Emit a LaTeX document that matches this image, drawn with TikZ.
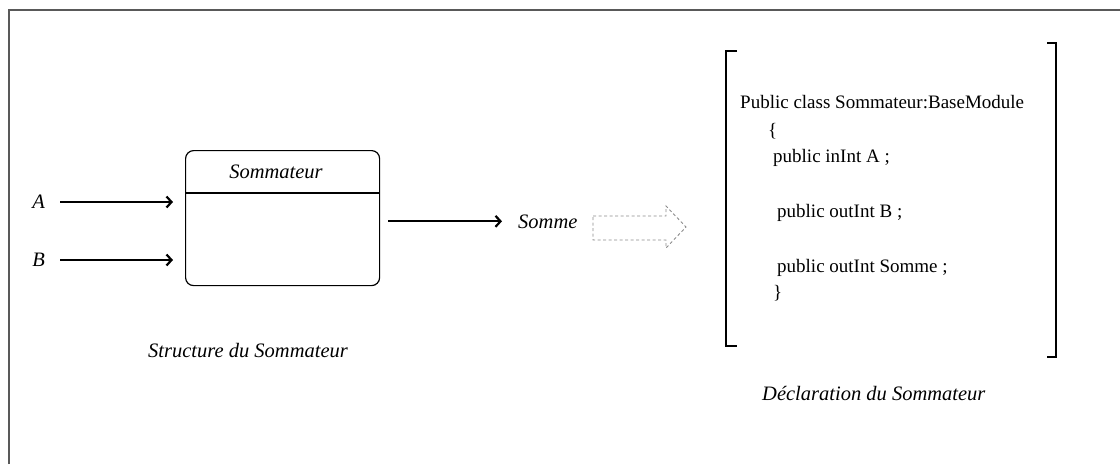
\documentclass[tikz,border=0pt]{standalone}
\usepackage{fontspec}
\setmainfont{Liberation Serif}
\usetikzlibrary{arrows.meta}
\begin{document}
\begin{tikzpicture}[x=1pt,y=-1pt,
  lab/.style={inner sep=0pt, font=\itshape\fontsize{20.5}{24}\selectfont},
  code/.style={inner sep=0pt, anchor=base west, font=\fontsize{19}{22}\selectfont},
  arr/.style={line width=2pt, -{Straight Barb[length=5pt,width=11pt,line width=2.2pt]}},
  frameline/.style={draw=black!65, line width=1.4pt},
  bracket/.style={line width=1.6pt},
  blockarrow/.style={draw=black!45, line width=0.9pt, dash pattern=on 3pt off 2.5pt}]
\useasboundingbox (0,0) rectangle (1120,464);

% page frame
\draw[frameline] (9,464) -- (9,10) -- (1120,10);

% module block
\node[draw, line width=1.2pt, rounded corners=8pt, minimum width=194pt,
      minimum height=135pt, anchor=north west, inner sep=0pt] (box) at (185,150) {};
\coordinate (div) at (0,193);
\draw[line width=1.1pt] (box.west |- div) -- (box.east |- div);
\node[lab, anchor=base] (title) at (276,178) {Sommateur};

% inputs
\node[lab, anchor=east] (A) at (45,202) {A};
\node[lab, anchor=east] (B) at (45,260) {B};
\draw[arr, shorten <=15pt, shorten >=12pt] (A.east) -- (A.east -| box.west);
\draw[arr, shorten <=15pt, shorten >=12pt] (B.east) -- (B.east -| box.west);

% output
\node[lab, anchor=base west] (somme) at (518,228) {Somme};
\draw[arr, shorten <=8pt, shorten >=16pt] (box.east |- somme.west) -- (somme.west);

% hollow dashed block arrow
\draw[blockarrow] (593,216) -- (666,216) -- (666,206) -- (686,227)
  -- (666,248) -- (666,240) -- (593,240) -- cycle;

\node[lab, anchor=base west] (cap1) at (148,357) {Structure du Sommateur};

% class declaration
\draw[bracket] (737,51) -- (726,51) -- (726,346) -- (737,346);
\draw[bracket] (1047,43) -- (1056,43) -- (1056,357) -- (1047,357);
\node[code] (l1) at (740,108) {Public class Sommateur:BaseModule};
\node[code] (l2) at (768,136) {\{};
\node[code] (l3) at (773,162) {public inInt A ;};
\node[code] (l4) at (777,217) {public outInt B ;};
\node[code] (l5) at (777,272) {public outInt Somme ;};
\node[code] (l6) at (773,298) {\}};

\node[lab, anchor=base west] (cap2) at (762,400) {Déclaration du Sommateur};
\end{tikzpicture}
\end{document}
